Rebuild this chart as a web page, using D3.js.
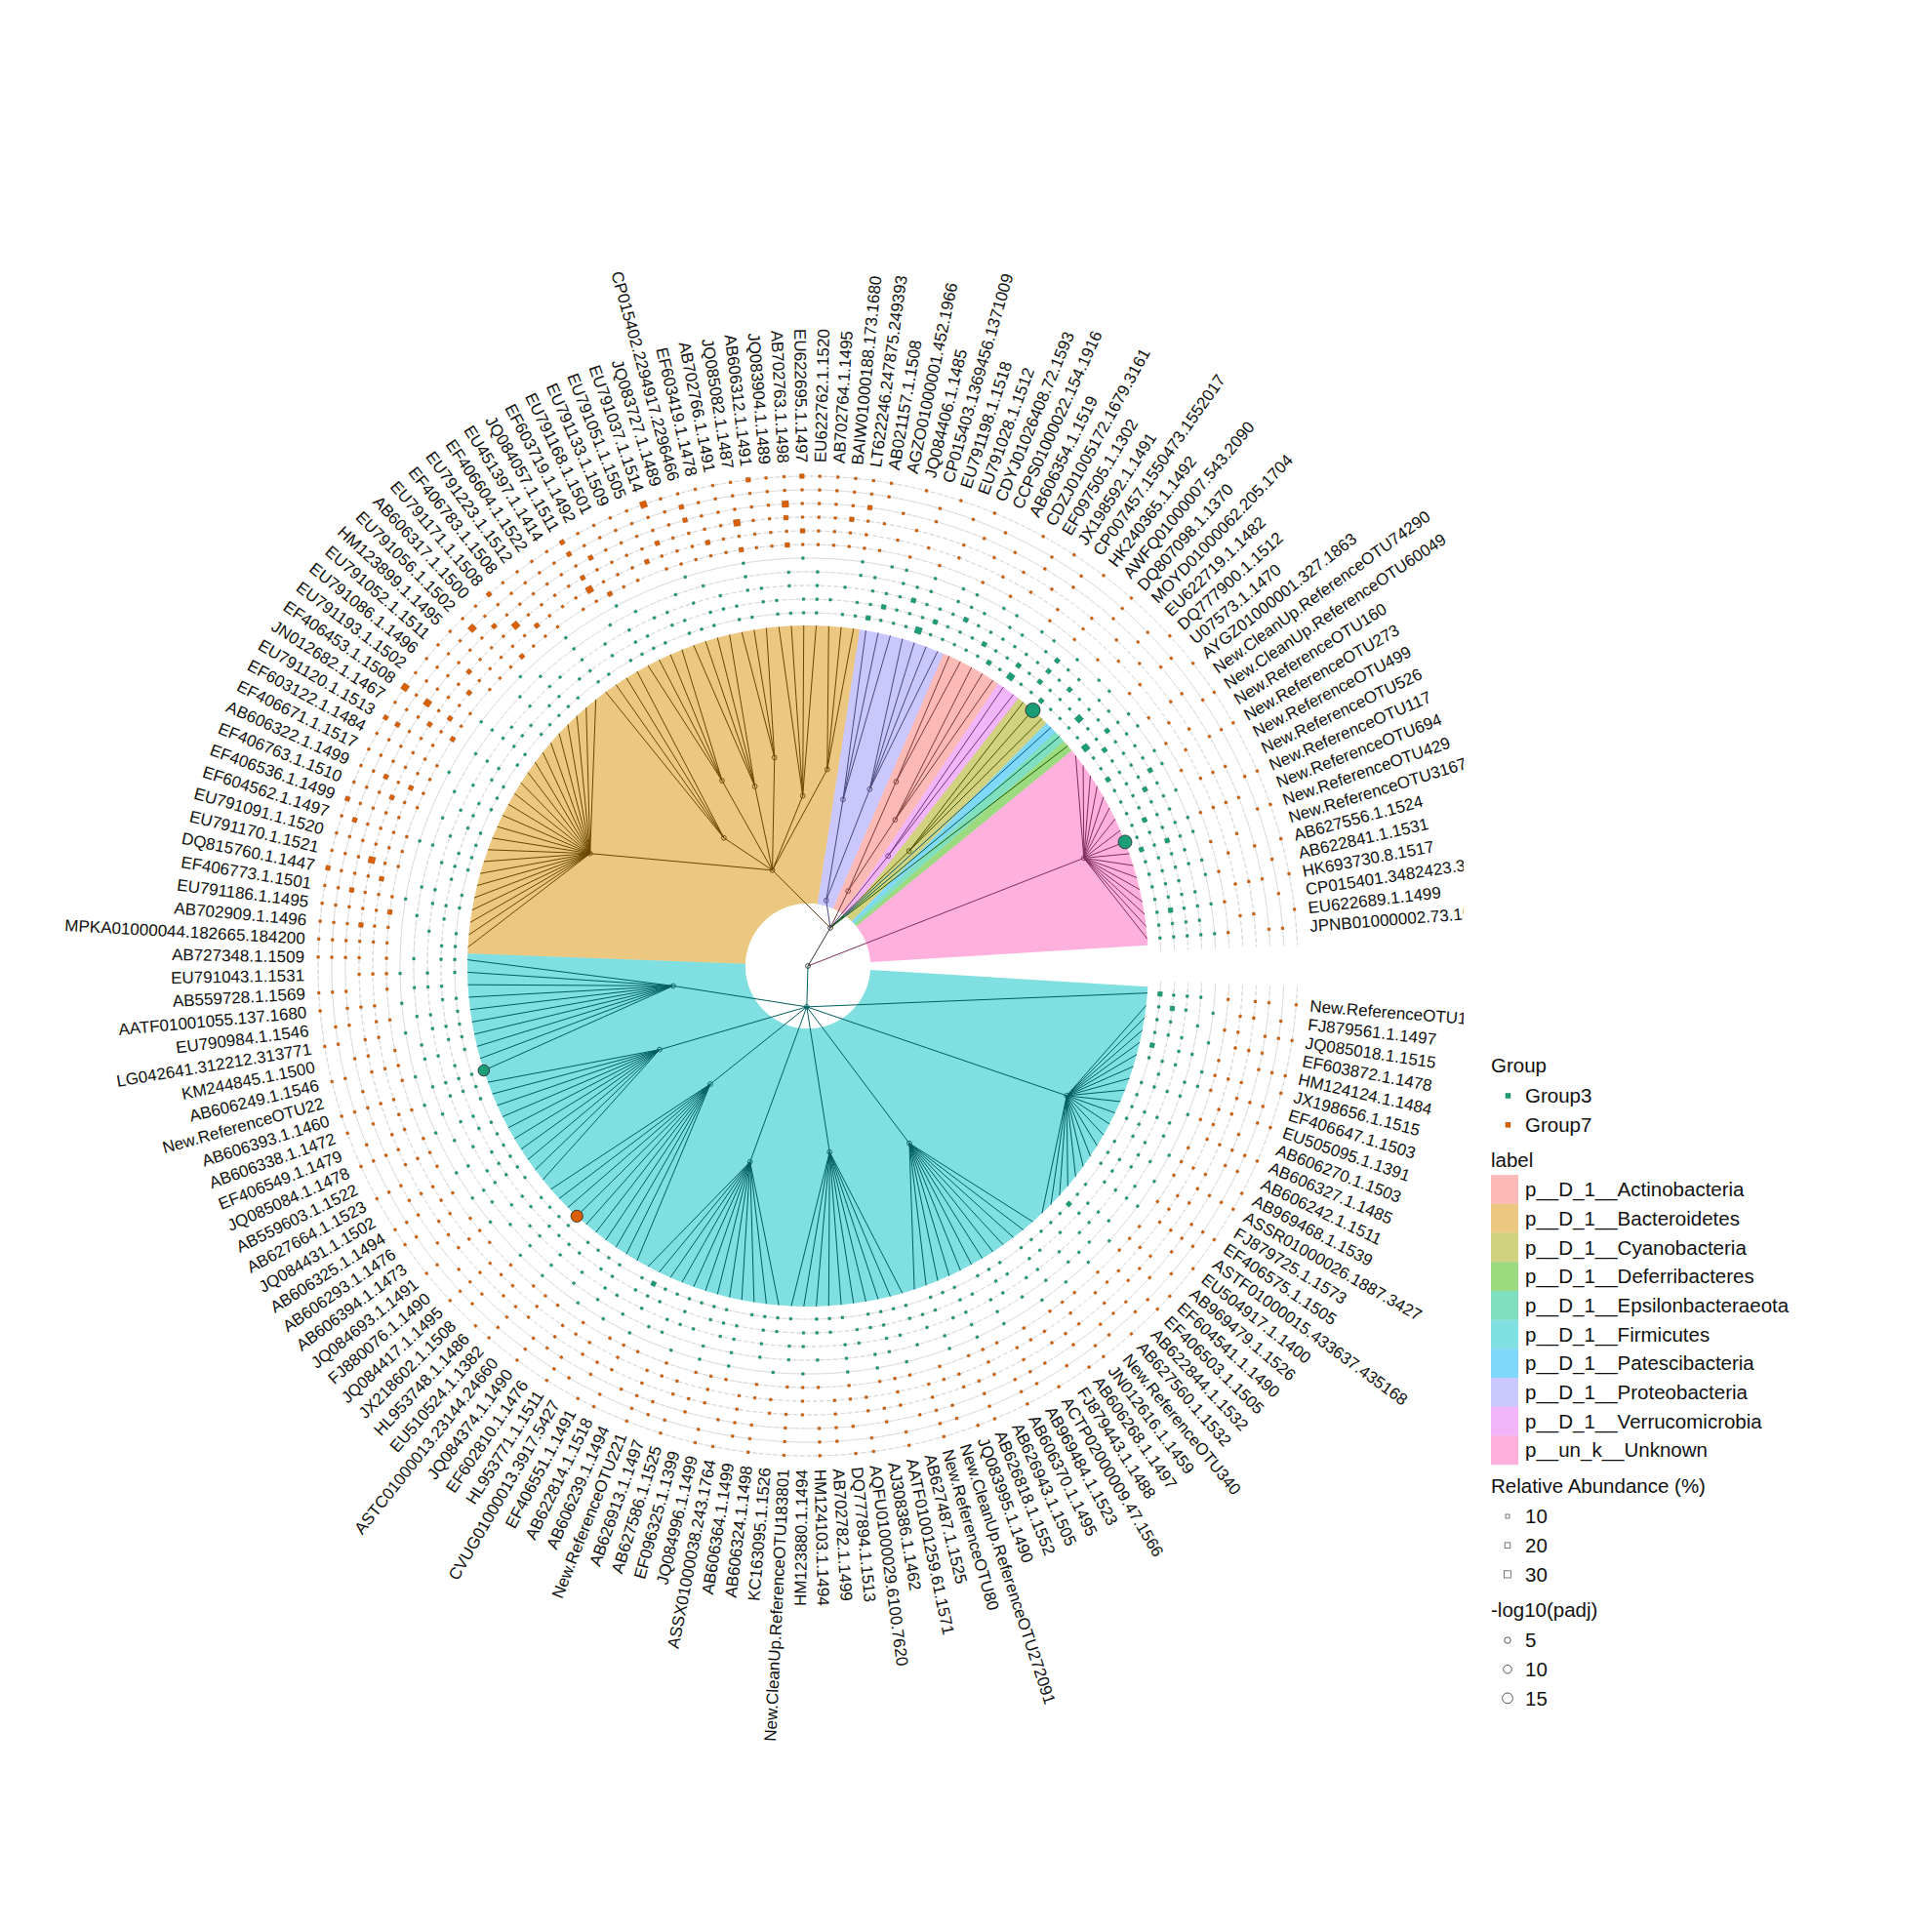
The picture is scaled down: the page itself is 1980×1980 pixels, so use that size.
<!DOCTYPE html>
<html>
<head>
<meta charset="utf-8">
<script src="https://cdn.jsdelivr.net/npm/d3@7"></script>
<style>
  body { margin: 0; background: #fff; }
  text { font-family: "Liberation Sans", Arial, sans-serif; }
</style>
</head>
<body>
<svg width="1980" height="1980"></svg>
<script>
'use strict';

// tip labels, clockwise from the right side of the fan
var firmicutesTips = ['New.ReferenceOTU134','FJ879561.1.1497','JQ085018.1.1515','EF603872.1.1478','HM124124.1.1484','JX198656.1.1515','EF406647.1.1503','EU505095.1.1391','AB606270.1.1503','AB606327.1.1485','AB606242.1.1511','AB969468.1.1539','ASSR01000026.1887.3427','FJ879725.1.1573','EF406575.1.1505','ASTF01000015.433637.435168','EU504917.1.1400','AB969479.1.1526','EF604541.1.1490','EF406503.1.1505','AB622844.1.1532','AB627560.1.1532','New.ReferenceOTU340','JN012616.1.1459','AB606268.1.1497','FJ879443.1.1488','ACTP02000009.47.1566','AB969484.1.1523','AB606370.1.1495','AB626943.1.1505','AB626818.1.1552','JQ083995.1.1490','New.CleanUp.ReferenceOTU272091','New.ReferenceOTU80','AB627487.1.1525','AATF01001259.61.1571','AJ308386.1.1462','AQFU01000029.6100.7620','DQ777894.1.1513','AB702782.1.1499','HM124103.1.1494','HM123880.1.1494','New.CleanUp.ReferenceOTU183801','KC163095.1.1526','AB606324.1.1498','AB606364.1.1499','ASSX01000038.243.1764','JQ084996.1.1499','EF096325.1.1399','AB627586.1.1525','AB626913.1.1497','New.ReferenceOTU221','AB606239.1.1494','AB622814.1.1518','EF406551.1.1491','CVUG01000013.3917.5427','HL953771.1.1511','EF602810.1.1476','JQ084374.1.1490','ASTC01000013.23144.24660','EU510524.1.1382','HL953748.1.1486','JX218602.1.1508','JQ084417.1.1495','FJ880076.1.1490','JQ084693.1.1491','AB606394.1.1473','AB606293.1.1476','AB606325.1.1494','JQ084431.1.1502','AB627664.1.1523','AB559603.1.1522','JQ085084.1.1478','EF406549.1.1479','AB606338.1.1472','AB606393.1.1460','New.ReferenceOTU22','AB606249.1.1546','KM244845.1.1500','LG042641.312212.313771','EU790984.1.1546','AATF01001055.137.1680','AB559728.1.1569','EU791043.1.1531','AB727348.1.1509'];
var bacteroidetesTips = ['MPKA01000044.182665.184200','AB702909.1.1496','EU791186.1.1495','EF406773.1.1501','DQ815760.1.1447','EU791170.1.1521','EU791091.1.1520','EF604562.1.1497','EF406536.1.1499','EF406763.1.1510','AB606322.1.1499','EF406671.1.1517','EF603122.1.1484','EU791120.1.1513','JN012682.1.1467','EF406453.1.1508','EU791193.1.1502','EU791086.1.1496','EU791052.1.1511','HM123899.1.1495','EU791056.1.1502','AB606317.1.1500','EU791171.1.1508','EF406783.1.1508','EU791223.1.1512','EF406604.1.1522','EU451397.1.1414','JQ084057.1.1511','EF603719.1.1492','EU791168.1.1501','EU791133.1.1509','EU791051.1.1505','EU791037.1.1514','JQ083727.1.1489','CP015402.2294917.2296466','EF603419.1.1478','AB702766.1.1491','JQ085082.1.1487','AB606312.1.1491','JQ083904.1.1489','AB702763.1.1498','EU622695.1.1497','EU622762.1.1520','AB702764.1.1495','BAIW01000188.173.1680','LT622246.247875.249393'];
var proteoTips = ['AB021157.1.1508','AGZO01000001.452.1966','JQ084406.1.1485','CP015403.1369456.1371009','EU791198.1.1518','EU791028.1.1512','CDYJ01026408.72.1593'];
var actinoTips = ['CCPS01000022.154.1916','AB606354.1.1519','CDZJ01005172.1679.3161','EF097505.1.1302','JX198592.1.1491'];
var verrucoTips = ['CP007457.1550473.1552017','HK240365.1.1492'];
var cyanoTips = ['AWFQ01000007.543.2090','DQ807098.1.1370','MOYD01000062.205.1704'];
var patesciTips = ['EU622719.1.1482'];
var epsilonTips = ['DQ777900.1.1512'];
var deferriTips = ['U07573.1.1470'];
var unknownTips = ['AYGZ01000001.327.1863','New.CleanUp.ReferenceOTU74290','New.CleanUp.ReferenceOTU60049','New.ReferenceOTU160','New.ReferenceOTU273','New.ReferenceOTU499','New.ReferenceOTU526','New.ReferenceOTU117','New.ReferenceOTU694','New.ReferenceOTU429','New.ReferenceOTU3167','AB627556.1.1524','AB622841.1.1531','HK693730.8.1517','CP015401.3482423.3483971','EU622689.1.1499','JPNB01000002.73.1590'];

// subclade sizes and node depths (fraction of root-to-tip)
var firmicutesSplit = [1, 20, 12, 10, 12, 10, 10, 10];
var firmicutesNodeR = [0, 0.85, 0.6, 0.55, 0.6, 0.45, 0.5, 0.4];
var bacteroidetesSplit = [24, 4, 4, 4, 3, 4, 3];
var bacteroidetesNodeR = [0.72, 0.45, 0.6, 0.55, 0.62, 0.5, 0.58];
var proteoSplit = [3, 4], proteoNodeR = [0.5, 0.55];
var actinoSplit = [2, 3], actinoNodeR = [0.6, 0.5];

var phylumNames = ['p__D_1__Actinobacteria','p__D_1__Bacteroidetes','p__D_1__Cyanobacteria','p__D_1__Deferribacteres','p__D_1__Epsilonbacteraeota','p__D_1__Firmicutes','p__D_1__Patescibacteria','p__D_1__Proteobacteria','p__D_1__Verrucomicrobia','p__un_k__Unknown'];
var phylumColors = ['#F8766D','#D89000','#A3A500','#39B600','#00BF7D','#00BFC4','#00B0F6','#9590FF','#E76BF3','#FF62BC'];

// rings: sample group and abundance class per tip (0 = absent)
var ringGroups = ['Group3','Group3','Group3','Group3','Group3','Group7','Group7','Group7','Group7','Group7','Group7'];
var ringValues = [
  '2111210111'+'1011101121'+'1111011101'+'1101111011'+'1011110111'+'1112101111'+'0111101111'+'1101110111'+'11011'+'1101101111'+'0111011011'+'1110110111'+'1011101101'+'111011'+'2111311111'+'2131121111'+'3112111112'+'1111111',
  '1211011101'+'1101110110'+'1011011011'+'0111011101'+'1101101110'+'1011101101'+'1110110111'+'0110111011'+'01101'+'1011011101'+'1101101110'+'1101101011'+'0110111011'+'011101'+'1211121112'+'1121211131'+'1211111211'+'1111211',
  '1101110101'+'0111010111'+'0101101101'+'1010110110'+'0110101101'+'1101011010'+'1011010110'+'1010110101'+'10110'+'0101101010'+'1010101101'+'0110101010'+'1101010110'+'101010'+'1112111211'+'1111212111'+'2111121112'+'1111111',
  '1010101101'+'1010110101'+'1101010101'+'0101011010'+'1010101010'+'0110101010'+'1010101101'+'0101010110'+'10101'+'0010100101'+'0100101001'+'0100100101'+'0010100100'+'101001'+'1011101110'+'1101211011'+'1111211111'+'1101111',
  '0101011010'+'0101010010'+'1010100101'+'0100101010'+'0101001010'+'1001010100'+'1010010101'+'0010101001'+'01010'+'0001000100'+'0010001000'+'1000100010'+'0001000100'+'010001'+'0110101101'+'1011010110'+'1101101011'+'0110101',
  '1010111010'+'1110101110'+'1011101011'+'1010111010'+'1110101110'+'1011101011'+'1010111010'+'1110101110'+'10111'+'1121011101'+'1110211011'+'1211101121'+'1011111211'+'211111'+'1010100101'+'0010101001'+'0101010010'+'1010101',
  '0111010111'+'0101110101'+'1101011101'+'0111010111'+'0101110101'+'1101011101'+'0111010111'+'0101110101'+'11010'+'1111211111'+'2111121211'+'1112111311'+'1211121111'+'121111'+'0101010010'+'1010100101'+'0010101010'+'0101010',
  '1101011101'+'0111010111'+'0101110101'+'1101011101'+'0111010111'+'0101110101'+'1101011101'+'0111010111'+'01011'+'1211131112'+'1111211121'+'1131111211'+'1121111311'+'211121'+'1010010101'+'0100101010'+'0101001010'+'1001010',
  '1011101011'+'1010111010'+'1110101110'+'1011101011'+'1010111010'+'1110101110'+'1011101011'+'1010111010'+'11101'+'1112111111'+'2111131111'+'1211111121'+'1111211111'+'311112'+'0101001010'+'1010010101'+'0100101010'+'0101001',
  '0110101101'+'1010110101'+'1011010110'+'1011010101'+'1010110101'+'1101011010'+'1011010110'+'1011010101'+'10101'+'1111111211'+'1112111111'+'3111111211'+'1111211111'+'111111'+'1001010100'+'1010010101'+'0010100101'+'0010101',
  '1010110101'+'0110101011'+'0101101010'+'1101010110'+'1010101101'+'0101101010'+'1101010110'+'1010110101'+'01101'+'1111211121'+'1112131111'+'1121111211'+'1131111121'+'121111'+'1010101001'+'0101010010'+'1010100101'+'0101010'
];

// significant tips: -log10(padj) and enriched group
var sigTips = ['DQ807098.1.1370', 'New.ReferenceOTU694', 'AB606393.1.1460', 'HL953748.1.1486'];
var sigPadj = [15, 13, 9, 10];
var sigGroup = ['Group3', 'Group3', 'Group3', 'Group7'];

var groupNames = ['Group3', 'Group7'];
var groupColors = ['#1B9E77', '#D95F02'];
var abundTicks = [10, 20, 30];
var padjTicks = [5, 10, 15];

// ---- layout
var CX = 828, CY = 990;
var TIP_R = 349, HOLE_R = 64, LABEL_R = 516;
var RING0 = 362, RING_STEP = 14;
var START = 3.5, SPAN = 353;

var svg = d3.select('svg');
var groupColor = d3.scaleOrdinal(groupNames, groupColors);
var phylumColor = d3.scaleOrdinal(phylumNames, phylumColors);
var rScale = d3.scaleLinear().domain([0, 1]).range([0, TIP_R]);
var sqSize = d3.scaleOrdinal([0, 1, 2, 3, 4], [0, 2.6, 4.6, 6.6, 8.6]);
var sigSize = d3.scaleSqrt().domain([0, 15]).range([0, 7.5]);

function leaf(name, phylum) { return {name: name, phylum: phylum, r: 1}; }
function clade(phylum, tips, split, nodeR, r) {
  var kids = [], k = 0;
  if (!split) {
    kids = tips.map(function(t){ return leaf(t, phylum); });
  } else {
    split.forEach(function(n, j) {
      var part = tips.slice(k, k + n); k += n;
      if (n === 1) kids.push(leaf(part[0], phylum));
      else kids.push({phylum: phylum, r: nodeR[j], children: part.map(function(t){ return leaf(t, phylum); })});
    });
  }
  return {phylum: phylum, r: r, children: kids};
}

var treeData = {r: 0, children: [
  clade(phylumNames[5], firmicutesTips, firmicutesSplit, firmicutesNodeR, 0.12),
  {r: 0.13, children: [
    clade(phylumNames[1], bacteroidetesTips, bacteroidetesSplit, bacteroidetesNodeR, 0.3),
    clade(phylumNames[7], proteoTips, proteoSplit, proteoNodeR, 0.2),
    clade(phylumNames[0], actinoTips, actinoSplit, actinoNodeR, 0.25),
    clade(phylumNames[8], verrucoTips, null, null, 0.4),
    clade(phylumNames[2], cyanoTips, null, null, 0.45),
    leaf(patesciTips[0], phylumNames[6]),
    leaf(epsilonTips[0], phylumNames[4]),
    leaf(deferriTips[0], phylumNames[3])
  ]},
  clade(phylumNames[9], unknownTips, null, null, 0.87)
]};

var root = d3.hierarchy(treeData);
d3.cluster().size([SPAN, 1]).separation(function(){ return 1; })(root);
var leaves = root.leaves();
var step = SPAN / (leaves.length - 1);

function pt(theta, r) {
  var a = theta * Math.PI / 180;
  return [CX + r * Math.cos(a), CY + r * Math.sin(a)];
}
function ang(d) { return START + d.x; }
function d3a(theta) { return (theta + 90) * Math.PI / 180; }

var plot = svg.append('g');
svg.append('clipPath').attr('id', 'clip').append('rect')
  .attr('x', 0).attr('y', 0).attr('width', 1500).attr('height', 1980);
plot.attr('clip-path', 'url(#clip)');

// clade highlights
var arc = d3.arc();
phylumNames.forEach(function(p) {
  var ls = leaves.filter(function(d){ return d.data.phylum === p; });
  if (!ls.length) return;
  var a0 = d3.min(ls, ang) - step / 2, a1 = d3.max(ls, ang) + step / 2;
  plot.append('path')
    .attr('transform', 'translate(' + CX + ',' + CY + ')')
    .attr('d', arc({innerRadius: HOLE_R, outerRadius: TIP_R, startAngle: d3a(a0), endAngle: d3a(a1)}))
    .attr('fill', phylumColor(p)).attr('fill-opacity', 0.5);
});
plot.append('circle').attr('cx', CX).attr('cy', CY).attr('r', HOLE_R).attr('fill', '#fff');

// branches
function lineColor(d) {
  var p = d.data.phylum;
  return p ? d3.color(phylumColor(p)).darker(2).formatHex() : '#333';
}
plot.append('g').selectAll('line').data(root.links()).join('line')
  .each(function(l) {
    var a = pt(ang(l.source), rScale(l.source.data.r));
    var b = pt(ang(l.target), rScale(l.target.data.r));
    d3.select(this).attr('x1', a[0]).attr('y1', a[1]).attr('x2', b[0]).attr('y2', b[1]);
  })
  .attr('stroke', function(l){ return lineColor(l.target); })
  .attr('stroke-width', 1);

plot.append('g').selectAll('circle').data(root.descendants().filter(function(d){ return d.children; })).join('circle')
  .attr('cx', function(d){ return pt(ang(d), rScale(d.data.r))[0]; })
  .attr('cy', function(d){ return pt(ang(d), rScale(d.data.r))[1]; })
  .attr('r', 2.4).attr('fill', 'none')
  .attr('stroke', lineColor).attr('stroke-width', 0.9);

// rings
var aFirst = START - step / 2, aLast = START + SPAN + step / 2;
ringGroups.forEach(function(g, k) {
  var r = RING0 + k * RING_STEP;
  plot.append('path')
    .attr('transform', 'translate(' + CX + ',' + CY + ')')
    .attr('d', d3.arc()({innerRadius: r, outerRadius: r, startAngle: d3a(aFirst), endAngle: d3a(aLast)}))
    .attr('fill', 'none').attr('stroke', '#d9d9d9').attr('stroke-width', 1).attr('stroke-dasharray', '4,3');
});
ringGroups.forEach(function(g, k) {
  var r = RING0 + k * RING_STEP;
  var vals = ringValues[k];
  var cells = leaves.map(function(d, i){ return {leaf: d, v: +(vals[i] || 0)}; })
    .filter(function(c){ return c.v > 0; });
  plot.append('g').selectAll('rect').data(cells).join('rect')
    .attr('transform', function(c) {
      var p = pt(ang(c.leaf), r);
      return 'translate(' + p[0] + ',' + p[1] + ') rotate(' + ang(c.leaf) + ')';
    })
    .attr('x', function(c){ return -sqSize(c.v) / 2; })
    .attr('y', function(c){ return -sqSize(c.v) / 2; })
    .attr('width', function(c){ return sqSize(c.v); })
    .attr('height', function(c){ return sqSize(c.v); })
    .attr('fill', groupColor(g))
    .attr('stroke', d3.color(groupColor(g)).darker(1)).attr('stroke-width', 0.4);
});

// significant tips
var sigData = sigTips.map(function(t, i) {
  return {leaf: leaves.find(function(d){ return d.data.name === t; }), p: sigPadj[i], g: sigGroup[i]};
}).filter(function(s){ return s.leaf; });
plot.append('g').selectAll('circle').data(sigData).join('circle')
  .attr('cx', function(s){ return pt(ang(s.leaf), TIP_R)[0]; })
  .attr('cy', function(s){ return pt(ang(s.leaf), TIP_R)[1]; })
  .attr('r', function(s){ return sigSize(s.p); })
  .attr('fill', function(s){ return groupColor(s.g); })
  .attr('stroke', '#222').attr('stroke-width', 0.8);

// tip labels
plot.append('g').selectAll('text').data(leaves).join('text')
  .attr('transform', function(d) {
    var t = ang(d), p = pt(t, LABEL_R);
    var flip = t > 90 && t < 270;
    return 'translate(' + p[0] + ',' + p[1] + ') rotate(' + (flip ? t - 180 : t) + ')';
  })
  .attr('text-anchor', function(d){ var t = ang(d); return (t > 90 && t < 270) ? 'end' : 'start'; })
  .attr('dy', '0.35em')
  .attr('font-size', 17).attr('fill', '#111')
  .text(function(d){ return d.data.name; });

// ---- legends
var LX = 1528, TX = 1563, FS = 20.5, ROW = 29.7;
var leg = svg.append('g').attr('font-size', FS).attr('fill', '#111');
function title(y, s) { leg.append('text').attr('x', LX).attr('y', y).attr('dy', '0.35em').text(s); }

title(1092, 'Group');
groupNames.forEach(function(g, i) {
  var y = 1123 + i * ROW;
  leg.append('rect').attr('x', LX + 15).attr('y', y - 2.5).attr('width', 5).attr('height', 5)
    .attr('fill', groupColor(g)).attr('stroke', d3.color(groupColor(g)).darker(1)).attr('stroke-width', 0.4);
  leg.append('text').attr('x', TX).attr('y', y).attr('dy', '0.35em').text(g);
});

title(1189, 'label');
phylumNames.forEach(function(p, i) {
  var y = 1219 + i * ROW;
  leg.append('rect').attr('x', LX).attr('y', y - ROW / 2).attr('width', 28).attr('height', ROW)
    .attr('fill', phylumColor(p)).attr('fill-opacity', 0.5);
  leg.append('text').attr('x', TX).attr('y', y).attr('dy', '0.35em').text(p);
});

title(1523, 'Relative Abundance (%)');
abundTicks.forEach(function(v, i) {
  var y = 1554 + i * ROW, s = 4 + i * 1.6;
  leg.append('rect').attr('x', LX + 17 - s / 2).attr('y', y - s / 2).attr('width', s).attr('height', s)
    .attr('fill', 'none').attr('stroke', '#555').attr('stroke-width', 0.8);
  leg.append('text').attr('x', TX).attr('y', y).attr('dy', '0.35em').text(v);
});

title(1650, '-log10(padj)');
padjTicks.forEach(function(v, i) {
  var y = 1681 + i * ROW;
  leg.append('circle').attr('cx', LX + 17).attr('cy', y).attr('r', 3.2 + i * 1.1)
    .attr('fill', 'none').attr('stroke', '#444').attr('stroke-width', 0.9);
  leg.append('text').attr('x', TX).attr('y', y).attr('dy', '0.35em').text(v);
});
</script>
</body>
</html>
